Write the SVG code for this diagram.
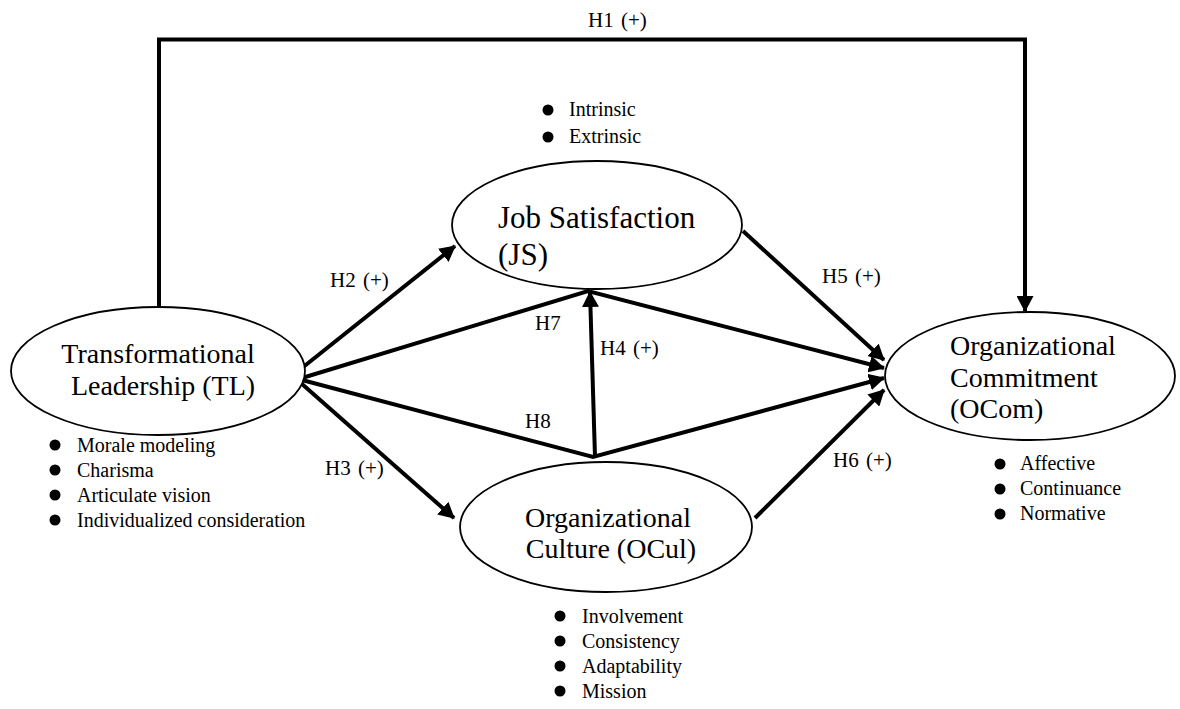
<svg xmlns="http://www.w3.org/2000/svg" width="1180" height="709" viewBox="0 0 1180 709" font-family="'Liberation Serif', 'Times New Roman', Times, serif">
<style>
text{font-family:'Liberation Serif','Times New Roman',Times,serif;fill:#000}
.node{fill:#fff;stroke:#000;stroke-width:1.8}
.big{font-size:28px}
.js{font-size:31px}
.lbl{font-size:21px;word-spacing:2px}
.bul{font-size:20px}
.conn{fill:none;stroke:#000;stroke-width:4;stroke-linejoin:miter}
.dot{fill:#000}
</style>
<defs>
<marker id="ah" viewBox="0 0 16 17" refX="15" refY="8.5" markerWidth="16" markerHeight="17" markerUnits="userSpaceOnUse" orient="auto">
<path d="M0,0 L16,8.5 L0,17 z" fill="#000"/>
</marker>
</defs>
<rect width="1180" height="709" fill="#fff"/>
<g id="connectors">
<path class="conn" d="M159,307 V39.5 H1025 V311" marker-end="url(#ah)"/>
<path class="conn" d="M302,368 L455,246" marker-end="url(#ah)"/>
<path class="conn" d="M302,378 L588,291 L884,368" marker-end="url(#ah)"/>
<path class="conn" d="M302,380 L593,457 L884,378" marker-end="url(#ah)"/>
<path class="conn" d="M595,457 L590,292" marker-end="url(#ah)"/>
<path class="conn" d="M302,384 L454,518" marker-end="url(#ah)"/>
<path class="conn" d="M743,231 L884,360" marker-end="url(#ah)"/>
<path class="conn" d="M755,518 L884,390" marker-end="url(#ah)"/>
</g>
<g id="labels">
<text class="lbl" x="588" y="27">H1 (+)</text>
<text class="lbl" x="330" y="287">H2 (+)</text>
<text class="lbl" x="325" y="475">H3 (+)</text>
<text class="lbl" x="600" y="355">H4 (+)</text>
<text class="lbl" x="822" y="283">H5 (+)</text>
<text class="lbl" x="833" y="467">H6 (+)</text>
<text class="lbl" x="535" y="330">H7</text>
<text class="lbl" x="525" y="428">H8</text>
</g>
<g id="TL">
<ellipse class="node" cx="158" cy="371" rx="147" ry="64"/>
<text class="big" x="158" y="363" text-anchor="middle">Transformational</text>
<text class="big" x="163" y="395" text-anchor="middle">Leadership (TL)</text>
<circle class="dot" cx="55" cy="445" r="5.5"/><text class="bul" x="77" y="452">Morale modeling</text>
<circle class="dot" cx="55" cy="470" r="5.5"/><text class="bul" x="77" y="477">Charisma</text>
<circle class="dot" cx="55" cy="495" r="5.5"/><text class="bul" x="77" y="502">Articulate vision</text>
<circle class="dot" cx="55" cy="520" r="5.5"/><text class="bul" x="77" y="527">Individualized consideration</text>
</g>
<g id="JS">
<ellipse class="node" cx="597" cy="225" rx="145" ry="64"/>
<text class="js" x="498" y="228">Job Satisfaction</text>
<text class="js" x="498" y="265">(JS)</text>
<circle class="dot" cx="548" cy="110" r="5.5"/><text class="bul" x="569" y="116">Intrinsic</text>
<circle class="dot" cx="548" cy="137" r="5.5"/><text class="bul" x="569" y="143">Extrinsic</text>
</g>
<g id="OCul">
<ellipse class="node" cx="606" cy="527" rx="146" ry="65"/>
<text class="big" x="608" y="527" text-anchor="middle">Organizational</text>
<text class="big" x="611" y="558" text-anchor="middle">Culture (OCul)</text>
<circle class="dot" cx="560" cy="616" r="5.5"/><text class="bul" x="582" y="623">Involvement</text>
<circle class="dot" cx="560" cy="641" r="5.5"/><text class="bul" x="582" y="648">Consistency</text>
<circle class="dot" cx="560" cy="666" r="5.5"/><text class="bul" x="582" y="673">Adaptability</text>
<circle class="dot" cx="560" cy="691" r="5.5"/><text class="bul" x="582" y="698">Mission</text>
</g>
<g id="OCom">
<ellipse class="node" cx="1030" cy="376" rx="145" ry="64"/>
<text class="big" x="950" y="355">Organizational</text>
<text class="big" x="950" y="387">Commitment</text>
<text class="big" x="950" y="418">(OCom)</text>
<circle class="dot" cx="1000" cy="464" r="5.5"/><text class="bul" x="1020" y="470">Affective</text>
<circle class="dot" cx="1000" cy="489" r="5.5"/><text class="bul" x="1020" y="495">Continuance</text>
<circle class="dot" cx="1000" cy="514" r="5.5"/><text class="bul" x="1020" y="520">Normative</text>
</g>
</svg>
